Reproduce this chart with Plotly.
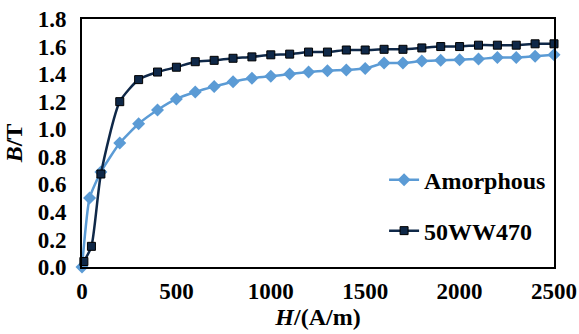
import plotly.graph_objects as go

H_amorphous = [0, 40, 100, 200, 300, 400, 500, 600, 700, 800, 900, 1000, 1100, 1200, 1300, 1400,
               1500, 1600, 1700, 1800, 1900, 2000, 2100, 2200, 2300, 2400, 2500]
B_amorphous = [0.0, 0.50, 0.69, 0.90, 1.04, 1.14, 1.22, 1.27, 1.31, 1.345, 1.37, 1.385, 1.40, 1.415,
               1.425, 1.43, 1.44, 1.48, 1.48, 1.495, 1.50, 1.505, 1.51, 1.52, 1.52, 1.53, 1.54]

H_50ww470 = [10, 50, 100, 200, 300, 400, 500, 600, 700, 800, 900, 1000, 1100, 1200, 1300, 1400,
             1500, 1600, 1700, 1800, 1900, 2000, 2100, 2200, 2300, 2400, 2500]
B_50ww470 = [0.04, 0.15, 0.675, 1.20, 1.36, 1.415, 1.45, 1.49, 1.50, 1.515, 1.525, 1.54, 1.545, 1.56,
             1.56, 1.575, 1.575, 1.58, 1.58, 1.59, 1.60, 1.60, 1.61, 1.61, 1.61, 1.62, 1.62]

x_ticks = [0, 500, 1000, 1500, 2000, 2500]
y_ticks = [0.0, 0.2, 0.4, 0.6, 0.8, 1.0, 1.2, 1.4, 1.6, 1.8]

FONT = "Liberation Serif"
LIGHT = "#5B9BD5"
NAVY = "#0F2848"
TICK_SIZE = 23
TEXT_SIZE = 24

fig = go.Figure()
fig.add_trace(go.Scatter(
    x=H_amorphous, y=B_amorphous, name="Amorphous", mode="lines+markers",
    line=dict(color=LIGHT, width=2.5, shape="spline", smoothing=0.5),
    marker=dict(symbol="diamond", size=10, color=LIGHT),
    legend="legend", cliponaxis=False,
))
fig.add_trace(go.Scatter(
    x=H_50ww470, y=B_50ww470, name="50WW470", mode="lines+markers",
    line=dict(color=NAVY, width=2.5, shape="spline", smoothing=0.6),
    marker=dict(symbol="square", size=8, color=NAVY, line=dict(color="#000000", width=1)),
    legend="legend2", cliponaxis=False,
))

fig.update_layout(
    width=579, height=334,
    margin=dict(l=82, r=25, t=19, b=67),
    paper_bgcolor="white", plot_bgcolor="white",
    font=dict(family=FONT, size=TEXT_SIZE, color="black"),
    xaxis=dict(
        range=[0, 2500], tickvals=x_ticks, ticktext=[str(v) for v in x_ticks],
        showgrid=False, zeroline=False, showline=True, linecolor="black", linewidth=2,
        mirror=True, ticks="", ticklen=0, automargin=False, ticklabelstandoff=2,
        tickfont=dict(family=FONT, size=TICK_SIZE, color="black", weight="bold"),
        title=dict(text="<b><i>H</i>/(A/m)</b>", font=dict(family=FONT, size=TEXT_SIZE), standoff=2),
    ),
    yaxis=dict(
        range=[0, 1.8], tickvals=y_ticks, ticktext=[f"{v:.1f}" for v in y_ticks],
        showgrid=False, zeroline=False, showline=True, linecolor="black", linewidth=2,
        mirror=True, ticks="", ticklen=0, automargin=False, ticklabelstandoff=9,
        tickfont=dict(family=FONT, size=TICK_SIZE, color="black", weight="bold"),
        title=dict(text="<b><i>B</i>/T</b>", font=dict(family=FONT, size=TEXT_SIZE), standoff=8),
    ),
    legend=dict(x=0.64, y=0.35, xanchor="left", yanchor="middle", bgcolor="rgba(0,0,0,0)",
                font=dict(family=FONT, size=TEXT_SIZE, weight="bold"), itemwidth=30),
    legend2=dict(x=0.64, y=0.145, xanchor="left", yanchor="middle", bgcolor="rgba(0,0,0,0)",
                 font=dict(family=FONT, size=TEXT_SIZE, weight="bold"), itemwidth=30),
    showlegend=True,
)

fig.write_html("out.html", config={"displayModeBar": False},
               post_script="document.body.style.margin='0';document.body.style.overflow='hidden';")
